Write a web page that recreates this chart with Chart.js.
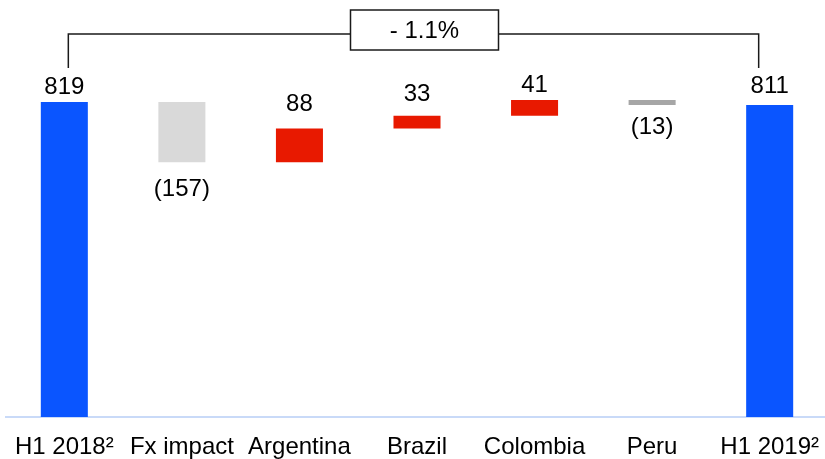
<!DOCTYPE html>
<html>
<head>
<meta charset="utf-8">
<script src="https://cdn.jsdelivr.net/npm/chart.js@4/dist/chart.umd.min.js"></script>
<style>
  body { margin: 0; overflow: hidden; background: #fff; }
  #wrap { width: 836px; height: 459px; margin-left: -1px; }
  canvas { display: block; }
</style>
</head>
<body>
<div id="wrap"><canvas id="bridgeChart" width="836" height="459"></canvas></div>
<script>
// Data
const categories = ['H1 2018\u00b2', 'Fx impact', 'Argentina', 'Brazil', 'Colombia', 'Peru', 'H1 2019\u00b2'];
const values = [819, -157, 88, 33, 41, -13, 811];
const isTotal = [true, false, false, false, false, false, true];
const valueLabels = ['819', '(157)', '88', '33', '41', '(13)', '811'];
const changeLabel = '- 1.1%';

// Colours
const barColors = ['#0a55ff', '#d9d9d9', '#e81900', '#e81900', '#e81900', '#a6a6a6', '#0a55ff'];
const labelGap = [6, 17, 15, 12, 6, 12, 10];
const FONT = '"Liberation Sans", Arial, sans-serif';

// floating ranges for the waterfall
let running = 0;
const ranges = values.map((v, i) => {
    if (isTotal[i]) {
        running = v;
        return [0, v];
    }
    const start = running;
    running += v;
    return [start, running];
});

const labelPlugin = {
    id: 'labels',
    afterDatasetsDraw(chart) {
        const ctx = chart.ctx;
        const meta = chart.getDatasetMeta(0);
        ctx.save();
        ctx.font = '24px ' + FONT;
        ctx.fillStyle = '#000';
        ctx.textAlign = 'center';
        ctx.textBaseline = 'middle';
        meta.data.forEach((bar, i) => {
            const top = Math.min(bar.y, bar.base);
            const bottom = Math.max(bar.y, bar.base);
            if (values[i] >= 0) {
                ctx.fillText(valueLabels[i], bar.x, top - labelGap[i] - 9);
            } else {
                ctx.fillText(valueLabels[i], bar.x, bottom + labelGap[i] + 10);
            }
        });
        ctx.restore();
    }
};

const bracketPlugin = {
    id: 'bracket',
    afterDraw(chart) {
        const ctx = chart.ctx;
        const x = chart.scales.x;
        const xL = x.getPixelForValue(0) + 4;
        const xR = x.getPixelForValue(6) - 11;
        const yLine = 34, yBot = 68;
        const boxW = 148, boxTop = 10, boxH = 40;
        const cx = (xL + xR) / 2 + 11;
        ctx.save();
        ctx.strokeStyle = '#1a1a1a';
        ctx.lineWidth = 1.5;
        ctx.beginPath();
        ctx.moveTo(xL, yBot);
        ctx.lineTo(xL, yLine);
        ctx.lineTo(xR, yLine);
        ctx.lineTo(xR, yBot);
        ctx.stroke();
        ctx.fillStyle = '#fff';
        ctx.fillRect(cx - boxW / 2, boxTop, boxW, boxH);
        ctx.strokeRect(cx - boxW / 2, boxTop, boxW, boxH);
        ctx.fillStyle = '#000';
        ctx.font = '24px ' + FONT;
        ctx.textAlign = 'center';
        ctx.textBaseline = 'middle';
        ctx.fillText(changeLabel, cx, boxTop + boxH / 2 + 1);
        ctx.restore();
    }
};

new Chart(document.getElementById('bridgeChart'), {
    type: 'bar',
    data: {
        labels: categories,
        datasets: [{
            data: ranges,
            backgroundColor: barColors,
            borderWidth: 0,
            barPercentage: 0.4,
            categoryPercentage: 1
        }]
    },
    options: {
        responsive: false,
        animation: false,
        layout: { padding: { left: 5, right: 1, top: 0, bottom: 0 } },
        plugins: {
            legend: { display: false },
            tooltip: { enabled: false }
        },
        scales: {
            x: {
                grid: { display: false, drawTicks: false },
                border: { display: true, color: '#c9daf8', width: 2 },
                ticks: {
                    color: '#000',
                    padding: 16,
                    maxRotation: 0,
                    autoSkip: false,
                    font: { family: FONT, size: 24 }
                },
                afterFit(scale) { scale.height = 42; }
            },
            y: {
                display: false,
                min: 0,
                max: 1084
            }
        }
    },
    plugins: [labelPlugin, bracketPlugin]
});
</script>
</body>
</html>
